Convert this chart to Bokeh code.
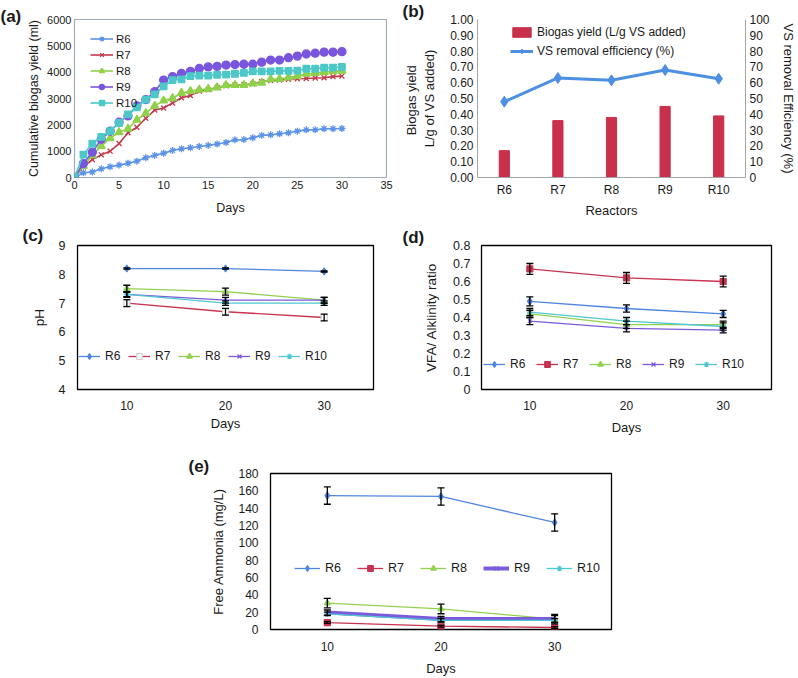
from bokeh.plotting import figure
from bokeh.models import (Range1d, FactorRange, LinearAxis, FixedTicker, Legend, LegendItem,
                          Whisker, TeeHead, ColumnDataSource, Title, NumeralTickFormatter)
from bokeh.layouts import column, row
from bokeh.embed import file_html
from bokeh.resources import INLINE

# ---------------- data ----------------
days_a = list(range(31))
a_R6 = [0, 180, 210, 330, 410, 470, 540, 620, 750, 840, 920, 1030, 1090, 1130, 1180, 1220, 1270, 1330, 1430, 1440, 1510, 1600, 1620, 1660, 1700, 1760, 1810, 1810, 1850, 1850, 1860]
a_R7 = [0, 410, 680, 860, 1000, 1290, 1700, 1910, 2250, 2560, 2640, 2830, 3030, 3110, 3280, 3330, 3420, 3480, 3510, 3520, 3560, 3640, 3680, 3700, 3730, 3750, 3760, 3780, 3790, 3830, 3850]
a_R8 = [0, 440, 840, 1190, 1490, 1720, 1850, 2190, 2440, 2720, 2920, 3010, 3210, 3280, 3330, 3360, 3420, 3510, 3510, 3510, 3570, 3600, 3730, 3740, 3800, 3850, 3940, 3970, 4000, 4030, 4050]
a_R9 = [0, 530, 960, 1450, 1760, 2100, 2340, 2720, 2960, 3260, 3700, 3830, 3950, 4030, 4140, 4200, 4220, 4270, 4290, 4300, 4300, 4380, 4460, 4460, 4550, 4610, 4690, 4720, 4760, 4760, 4780]
a_R10 = [0, 870, 1290, 1540, 1760, 2070, 2400, 2660, 2960, 3160, 3460, 3700, 3730, 3850, 3870, 3870, 3900, 3910, 3940, 3970, 4030, 4030, 4030, 4050, 4050, 4060, 4130, 4130, 4170, 4170, 4200]

reactors = ["R6", "R7", "R8", "R9", "R10"]
b_biogas_yield = [0.17, 0.36, 0.38, 0.45, 0.39]
b_vs_removal = [48, 63, 61.5, 68, 62.5]

days_s = [10, 20, 30]
c_pH = {"R6": [8.2, 8.2, 8.1], "R7": [7.0, 6.7, 6.5], "R8": [7.5, 7.4, 7.1],
        "R9": [7.3, 7.1, 7.1], "R10": [7.3, 7.0, 7.0]}
c_err = {"R6": [0.02, 0.02, 0.02], "R7": [0.12, 0.12, 0.12], "R8": [0.12, 0.12, 0.1],
         "R9": [0.1, 0.1, 0.1], "R10": [0.08, 0.08, 0.08]}
d_ratio = {"R6": [0.49, 0.45, 0.42], "R7": [0.67, 0.62, 0.60], "R8": [0.42, 0.36, 0.36],
           "R9": [0.38, 0.34, 0.33], "R10": [0.43, 0.38, 0.35]}
d_err = {"R6": [0.025, 0.02, 0.02], "R7": [0.03, 0.03, 0.03], "R8": [0.02, 0.02, 0.02],
         "R9": [0.02, 0.02, 0.015], "R10": [0.02, 0.02, 0.02]}
e_nh3 = {"R6": [154.5, 153.5, 123.5], "R7": [8, 3.8, 2.3], "R8": [30.5, 23.7, 12],
         "R9": [19.5, 12, 12], "R10": [18, 10.5, 10.5]}
e_err = {"R6": [10, 10, 10], "R7": [1, 1, 1], "R8": [5.5, 5.5, 5.5],
         "R9": [3, 3, 4], "R10": [2, 2, 2]}

# ---------------- styles ----------------
FONT = "Liberation Sans"
TXT = "#1a1a1a"
COL_A = {"R6": "#5C93E6", "R7": "#C0394B", "R8": "#8FD14A", "R9": "#7A55DD", "R10": "#4CC8C8"}
COL_S = {"R6": "#4F86E0", "R7": "#C8334F", "R8": "#92D050", "R9": "#7B5BDC", "R10": "#4FC6D0"}


def base_fig(w, h, l, r, t, b, xr, yr):
    p = figure(width=w, height=h, x_range=xr, y_range=yr, output_backend="svg",
               toolbar_location=None, min_border_left=l, min_border_right=r,
               min_border_top=t, min_border_bottom=b)
    p.grid.visible = False
    p.background_fill_color = "white"
    p.border_fill_color = "white"
    return p


def style_axis(ax, tick_size, label_size, label_standoff, tick_standoff, line_color=None):
    ax.axis_line_color = line_color
    ax.major_tick_line_color = None
    ax.minor_tick_line_color = None
    ax.major_tick_out = 0
    ax.major_tick_in = 0
    ax.minor_tick_out = 0
    ax.minor_tick_in = 0
    ax.major_label_text_font = FONT
    ax.major_label_text_font_size = f"{tick_size}px"
    ax.major_label_text_color = TXT
    ax.major_label_standoff = tick_standoff
    ax.axis_label_text_font = FONT
    ax.axis_label_text_font_size = f"{label_size}px"
    ax.axis_label_text_font_style = "normal"
    ax.axis_label_text_color = TXT
    ax.axis_label_standoff = label_standoff


def panel_label(p, text, offset, standoff):
    p.add_layout(Title(text=text, align="left", vertical_align="bottom", offset=offset,
                       standoff=standoff, text_font=FONT, text_font_size="17px",
                       text_font_style="bold", text_color=TXT), "above")


def style_legend(lg, font_size, gw, gh, lh, lw, spacing, standoff, orientation, loc):
    lg.location = loc
    lg.orientation = orientation
    lg.background_fill_alpha = 0
    lg.border_line_color = None
    lg.padding = 0
    lg.margin = 0
    lg.glyph_width = gw
    lg.glyph_height = gh
    lg.label_height = lh
    lg.label_width = lw
    lg.spacing = spacing
    lg.label_standoff = standoff
    lg.label_text_font = FONT
    lg.label_text_font_size = f"{font_size}px"
    lg.label_text_color = TXT


# ---------------- (a) ----------------
pa = base_fig(400, 222, 74, 14, 15, 44, Range1d(0, 35), Range1d(0, 6000))
pa.outline_line_color = "#A3ABB3"
pa.outline_line_width = 1.2
pa.xaxis.ticker = FixedTicker(ticks=[0, 5, 10, 15, 20, 25, 30, 35])
pa.yaxis.ticker = FixedTicker(ticks=[0, 1000, 2000, 3000, 4000, 5000, 6000])
pa.xaxis.axis_label = "Days"
pa.yaxis.axis_label = "Cumulative biogas yield (ml)"
style_axis(pa.xaxis[0], 11, 12.5, 9, 3)
style_axis(pa.yaxis[0], 11, 12.5, 3, 3)

series_a = [("R6", a_R6, "asterisk", 7), ("R7", a_R7, "x", 7), ("R8", a_R8, "triangle", 8),
            ("R9", a_R9, "circle", 8), ("R10", a_R10, "square", 6.5)]
items_a = []
for name, vals, mk, sz in series_a:
    c = COL_A[name]
    ln = pa.line(days_a, vals, line_color=c, line_width=1.6)
    sc = pa.scatter(days_a, vals, marker=mk, size=sz, fill_color=c, line_color=c, line_width=1.3)
    items_a.append(LegendItem(label=name, renderers=[ln, sc]))
lga = Legend(items=items_a)
style_legend(lga, 11.5, 23, 13, 13, 20, 3, 3, "vertical", (16, 68))
pa.add_layout(lga)
panel_label(pa, "(a)", -74, -12)

# ---------------- (b) ----------------
pb = base_fig(398, 222, 77, 50, 19, 45, FactorRange(*reactors), Range1d(0, 1))
pb.outline_line_color = None
pb.extra_y_ranges = {"vs": Range1d(0, 100)}
pb.yaxis.ticker = FixedTicker(ticks=[i / 10 for i in range(11)])
pb.yaxis.formatter = NumeralTickFormatter(format="0.00")
pb.yaxis.axis_label = "Biogas  yield\nL/g of VS added)"
pb.xaxis.axis_label = "Reactors"
style_axis(pb.xaxis[0], 12, 13, 3, 5, "#A6A6A6")
style_axis(pb.yaxis[0], 12, 13, 10, 4, "#A6A6A6")
rax = LinearAxis(y_range_name="vs", ticker=FixedTicker(ticks=list(range(0, 101, 10))),
                 axis_label="VS removal Efficiency (%)")
style_axis(rax, 12, 13, 8, 4, "#A6A6A6")
pb.add_layout(rax, "right")
bars = pb.vbar(x=reactors, top=b_biogas_yield, width=0.19, fill_color="#C9304C", line_color="#C9304C")
lnb = pb.line(reactors, b_vs_removal, y_range_name="vs", line_color="#4D8FE3", line_width=3)
scb = pb.scatter(reactors, b_vs_removal, y_range_name="vs", marker="diamond", size=11,
                 fill_color="#4D8FE3", line_color="#4D8FE3")
lgb = Legend(items=[LegendItem(label="Biogas yield (L/g VS added)", renderers=[bars]),
                    LegendItem(label="VS removal efficiency (%)", renderers=[lnb, scb])])
style_legend(lgb, 12, 23, 12, 14, 20, 5, 4, "vertical", (33, 119))
pb.add_layout(lgb)
panel_label(pb, "(b)", -75, -2)


# ---------------- helper for (c), (d), (e) ----------------
def series_panel(p, data, err, markers, widths, white_r7=False):
    items = []
    for name in reactors:
        c = COL_S[name]
        vals = data[name]
        ln = p.line(days_s, vals, line_color=c, line_width=widths.get(name, 1.3))
        mk, sz = markers[name]
        fc = c
        lc = c
        if white_r7 and name == "R7":
            fc = "white"
            lc = "#D0D0D0"
        sc = p.scatter(days_s, vals, marker=mk, size=sz, fill_color=fc, line_color=lc, line_width=1.2)
        src = ColumnDataSource(dict(x=days_s,
                                    upper=[v + e for v, e in zip(vals, err[name])],
                                    lower=[v - e for v, e in zip(vals, err[name])]))
        w = Whisker(source=src, base="x", upper="upper", lower="lower", line_color="black",
                    line_width=1.3, level="overlay",
                    upper_head=TeeHead(size=7, line_color="black", line_width=1.3),
                    lower_head=TeeHead(size=7, line_color="black", line_width=1.3))
        p.add_layout(w)
        items.append(LegendItem(label=name, renderers=[ln, sc]))
    return items


mk_s = {"R6": ("diamond", 7), "R7": ("square", 6), "R8": ("triangle", 6),
        "R9": ("x", 5), "R10": ("asterisk", 6)}

# ---------------- (c) ----------------
pc = base_fig(400, 226, 77, 27, 23, 59, Range1d(5, 35), Range1d(4, 9))
pc.outline_line_color = "black"
pc.outline_line_width = 1.3
pc.xaxis.ticker = FixedTicker(ticks=days_s)
pc.yaxis.ticker = FixedTicker(ticks=[4, 5, 6, 7, 8, 9])
pc.xaxis.axis_label = "Days"
pc.yaxis.axis_label = "pH"
style_axis(pc.xaxis[0], 12, 13, 3, 11)
style_axis(pc.yaxis[0], 12.5, 13.5, 9, 12)
items_c = series_panel(pc, c_pH, c_err, mk_s, {}, white_r7=True)
lgc = Legend(items=items_c)
style_legend(lgc, 12, 22, 14, 14, 18, 5, 5, "horizontal", (1, 26))
pc.add_layout(lgc)
panel_label(pc, "(c)", -55, 2)

# ---------------- (d) ----------------
pd_ = base_fig(398, 226, 81, 27, 20, 59, Range1d(5, 35), Range1d(0, 0.8))
pd_.outline_line_color = "black"
pd_.outline_line_width = 1.3
pd_.xaxis.ticker = FixedTicker(ticks=days_s)
pd_.yaxis.ticker = FixedTicker(ticks=[i / 10 for i in range(9)])
pd_.yaxis.formatter = NumeralTickFormatter(format="0.[0]")
pd_.xaxis.axis_label = "Days"
pd_.yaxis.axis_label = "VFA/ Alklinity ratio"
style_axis(pd_.xaxis[0], 12, 13, 7, 11)
style_axis(pd_.yaxis[0], 12.5, 13.5, 11, 11)
items_d = series_panel(pd_, d_ratio, d_err, mk_s, {})
lgd = Legend(items=items_d)
style_legend(lgd, 12, 22, 14, 14, 21, 5, 5, "horizontal", (2, 18))
pd_.add_layout(lgd)
panel_label(pd_, "(d)", -79, -2)

# ---------------- (e) ----------------
pe = base_fig(798, 230, 270, 187, 25, 45, Range1d(5, 35), Range1d(0, 180))
pe.outline_line_color = "black"
pe.outline_line_width = 1.3
pe.xaxis.ticker = FixedTicker(ticks=days_s)
pe.yaxis.ticker = FixedTicker(ticks=list(range(0, 181, 20)))
pe.xaxis.axis_label = "Days"
pe.yaxis.axis_label = "Free Ammonia (mg/L)"
style_axis(pe.xaxis[0], 12, 13, 7, 12)
style_axis(pe.yaxis[0], 12, 13, 9, 12)
items_e = series_panel(pe, e_nh3, e_err, mk_s, {"R9": 4})
lge = Legend(items=items_e)
style_legend(lge, 12.5, 26, 14, 14, 27, 5, 5, "horizontal", (24, 54))
pe.add_layout(lge)
panel_label(pe, "(e)", -82, -4)

layout = column(row(pa, pb), row(pc, pd_), pe)
open("out.html", "w").write(file_html(layout, INLINE))
